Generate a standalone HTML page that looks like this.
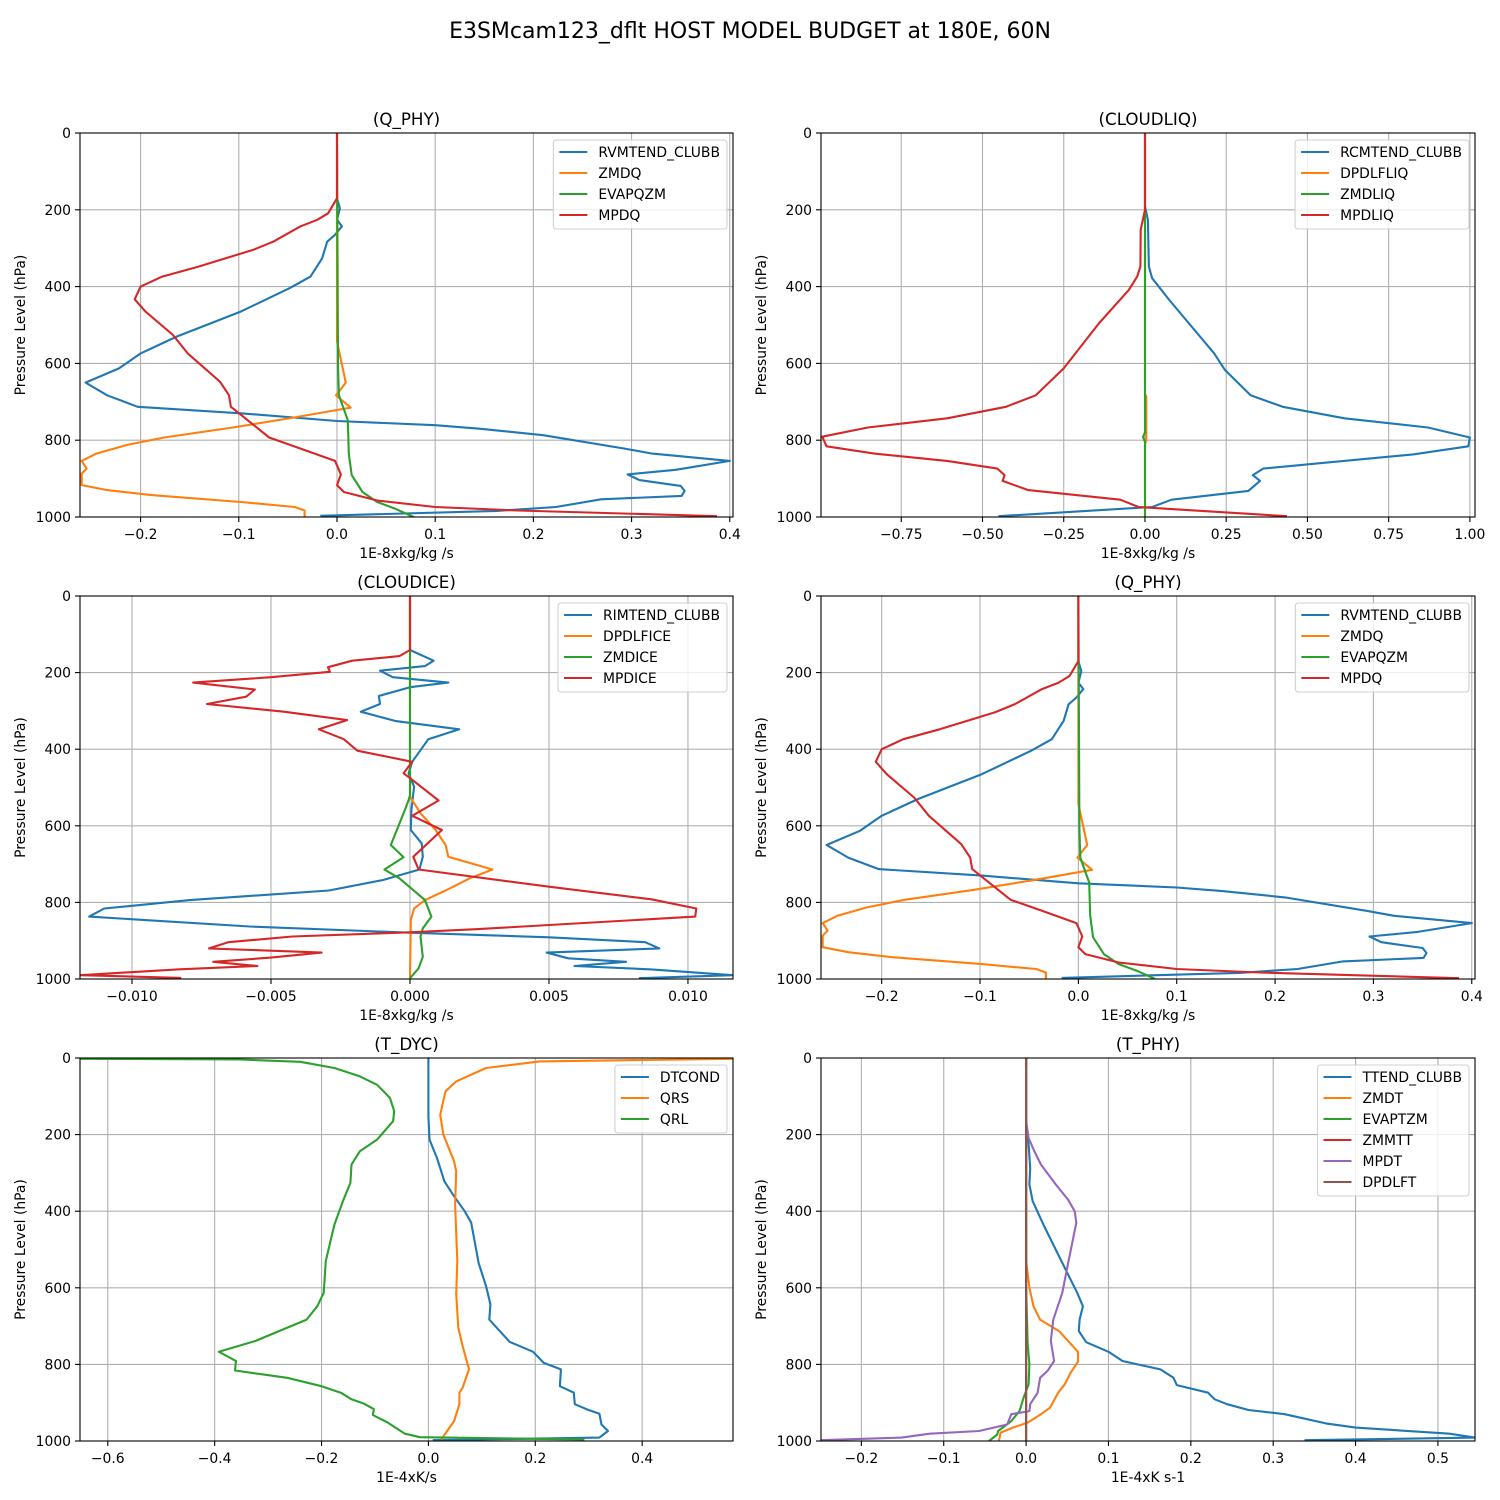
<!DOCTYPE html>
<html><head><meta charset="utf-8"><title>E3SM budget</title>
<style>
html,body{margin:0;padding:0;background:#fff;}
svg{display:block;font-family:"DejaVu Sans","Liberation Sans",sans-serif;}
</style></head>
<body>
<svg id="fig" width="1500" height="1500" viewBox="0 0 1500 1500" xmlns="http://www.w3.org/2000/svg">
<rect width="1500" height="1500" fill="#fff"/>
<text x="750" y="38" text-anchor="middle" font-size="22">E3SMcam123_dflt HOST MODEL BUDGET at 180E, 60N</text>
</svg>
<script>
// ---------- Q_PHY data ----------
const q_rvm_p=[0,170,196,226,243,265,283,300,326,374,404,465,530,574,613,650,683,713,730,750,761,770,787,822,835,854,877,889,904,919,932,945,954,974,984,997];
const q_rvm_v=[0,0,0.003,0,0.005,-0.002,-0.01,-0.012,-0.015,-0.027,-0.048,-0.098,-0.163,-0.2,-0.222,-0.256,-0.234,-0.203,-0.098,0,0.1,0.145,0.21,0.293,0.321,0.4,0.345,0.296,0.308,0.35,0.354,0.351,0.269,0.223,0.163,-0.017];
const q_zm_p=[0,543,650,683,715,742,767,793,813,835,854,874,887,917,930,943,961,974,983,1000];
const q_zm_v=[0,0,0.009,-0.001,0.014,-0.046,-0.106,-0.176,-0.215,-0.245,-0.26,-0.255,-0.26,-0.26,-0.234,-0.189,-0.098,-0.043,-0.033,-0.033];
const q_ev_p=[0,609,683,748,835,891,935,961,978,1000];
const q_ev_v=[0,0.001,0.002,0.011,0.012,0.015,0.026,0.041,0.059,0.078];
const q_mp_p=[0,170,209,226,243,283,304,348,374,400,433,465,526,574,648,683,713,793,822,854,889,917,935,957,974,983,998];
const q_mp_v=[0,0,-0.009,-0.02,-0.037,-0.065,-0.085,-0.141,-0.178,-0.2,-0.206,-0.195,-0.167,-0.152,-0.119,-0.11,-0.108,-0.069,-0.037,-0.002,0.004,0,0.007,0.041,0.1,0.184,0.387];
const q_ticks=[-0.2,-0.1,0.0,0.1,0.2,0.3,0.4];
const q_tick_labels=["−0.2","−0.1","0.0","0.1","0.2","0.3","0.4"];
const q_names=["RVMTEND_CLUBB","ZMDQ","EVAPQZM","MPDQ"];

// ---------- CLOUDLIQ data ----------
const l_rcm_p=[0,191,226,348,378,435,574,617,683,713,743,767,793,816,837,874,891,906,932,955,974,998];
const l_rcm_v=[0,0,0.009,0.012,0.022,0.075,0.213,0.246,0.325,0.424,0.614,0.871,1.0,0.995,0.825,0.364,0.332,0.354,0.318,0.082,0.022,-0.451];
const l_dp_p=[0,680,687,800,810,1000];
const l_dp_v=[0,0,0.004,0.004,0,0];
const l_zm_p=[0,780,791,805,1000];
const l_zm_v=[0,0,-0.006,0,0];
const l_mp_p=[0,200,252,348,374,409,496,613,683,713,743,767,791,816,835,854,874,891,906,930,955,974,998];
const l_mp_v=[0,0,-0.013,-0.014,-0.024,-0.05,-0.142,-0.25,-0.336,-0.428,-0.609,-0.853,-0.993,-0.98,-0.833,-0.609,-0.454,-0.432,-0.438,-0.359,-0.076,-0.02,0.437];
const l_ticks=[-0.75,-0.5,-0.25,0,0.25,0.5,0.75,1.0];
const l_tick_labels=["−0.75","−0.50","−0.25","0.00","0.25","0.50","0.75","1.00"];
const l_names=["RCMTEND_CLUBB","DPDLFLIQ","ZMDLIQ","MPDLIQ"];

// ---------- CLOUDICE data ----------
const i_rim_p=[0,141,169,183,195,212,226,238,261,282,302,326,348,374,433,463,498,559,611,646,681,714,742,769,794,816,837,863,879,891,904,920,931,946,955,966,975,990,998];
const i_rim_v=[0,0,0.00085,0.00054,-0.00108,-0.00062,0.00138,0,-0.00112,-0.00108,-0.00177,-0.00054,0.00177,0.00066,0.00008,-0.00005,0.00015,0.00005,0.00003,0.00042,0.00046,0.00034,-0.001,-0.00292,-0.00792,-0.011,-0.01154,-0.00577,0,0.005,0.00846,0.00897,0.00492,0.00569,0.00777,0.00592,0.00869,0.01162,0.00823];
const i_dp_p=[0,524,567,611,650,681,714,737,769,794,816,846,998];
const i_dp_v=[0,0,0.00038,0.00092,0.00128,0.00138,0.00297,0.00215,0.00128,0.00054,0.00015,0.00003,0];
const i_zm_p=[0,520,533,567,650,682,714,737,794,837,868,889,942,972,998];
const i_zm_v=[0,0,-0.00005,-0.00023,-0.00069,-0.00023,-0.00092,-0.00038,0.00054,0.00077,0.00046,0.00038,0.00046,0.00031,0];
const i_mp_p=[0,141,157,169,186,198,212,226,244,263,282,302,324,348,374,404,433,463,480,534,574,611,681,714,759,792,816,837,870,878,889,904,920,931,944,955,966,975,990,997];
const i_mp_v=[0,0,-0.00038,-0.00208,-0.00295,-0.00288,-0.005,-0.0078,-0.00558,-0.00589,-0.0073,-0.00454,-0.00226,-0.00328,-0.00238,-0.00189,0.00008,-0.00023,0.00008,0.00103,0.00008,0.00115,0.00012,0.00031,0.005,0.00869,0.0103,0.01026,0.00238,0,-0.00423,-0.00654,-0.00723,-0.00318,-0.005,-0.00708,-0.00549,-0.00838,-0.01185,-0.00823];
const i_ticks=[-0.010,-0.005,0,0.005,0.010];
const i_tick_labels=["−0.010","−0.005","0.000","0.005","0.010"];
const i_names=["RIMTEND_CLUBB","DPDLFICE","ZMDICE","MPDICE"];

// ---------- T_DYC data ----------
const d_dt_p=[0,152,213,261,322,361,400,430,535,596,643,683,741,767,796,813,857,874,904,917,929,957,974,991,998];
const d_dt_v=[0,0,0.002,0.016,0.03,0.048,0.068,0.08,0.094,0.108,0.116,0.114,0.152,0.196,0.216,0.248,0.246,0.272,0.274,0.296,0.32,0.324,0.336,0.32,0.008];
const d_qrs_p=[2,9,26,61,87,148,200,270,296,383,530,617,704,752,813,861,874,904,948,996];
const d_qrs_v=[0.57,0.208,0.108,0.052,0.032,0.022,0.028,0.048,0.052,0.05,0.054,0.052,0.056,0.064,0.076,0.064,0.058,0.058,0.048,0.024];
const d_qrl_p=[2,4,10,26,48,70,104,139,165,213,243,278,326,374,435,530,613,648,683,739,767,791,816,835,857,874,891,903,917,932,952,981,990,996];
const d_qrl_v=[-0.652,-0.352,-0.24,-0.176,-0.128,-0.096,-0.072,-0.064,-0.066,-0.096,-0.128,-0.144,-0.146,-0.16,-0.176,-0.192,-0.196,-0.208,-0.228,-0.324,-0.392,-0.36,-0.362,-0.264,-0.2,-0.164,-0.144,-0.12,-0.102,-0.104,-0.076,-0.044,-0.016,0.292];
const d_ticks=[-0.6,-0.4,-0.2,0,0.2,0.4];
const d_tick_labels=["−0.6","−0.4","−0.2","0.0","0.2","0.4"];
const d_names=["DTCOND","QRS","QRL"];

// ---------- T_PHY data ----------
const t_tt_p=[0,165,226,287,330,374,435,500,557,613,648,683,713,742,767,791,813,835,854,874,891,904,919,930,954,965,981,991,998];
const t_tt_v=[0,0,0.003,0.005,0.004,0.008,0.021,0.036,0.049,0.062,0.069,0.065,0.064,0.073,0.1,0.117,0.163,0.179,0.183,0.221,0.229,0.244,0.27,0.314,0.364,0.4,0.514,0.545,0.338];
const t_zm_p=[0,530,600,648,683,713,767,793,822,852,874,913,930,952,965,978,1000];
const t_zm_v=[0,0,0.004,0.009,0.017,0.04,0.063,0.063,0.054,0.047,0.039,0.029,0.018,0.002,-0.016,-0.031,-0.033];
const t_ev_p=[0,600,748,800,852,887,922,948,974,983,1000];
const t_ev_v=[0,0,0.002,0.004,0.003,-0.003,-0.008,-0.018,-0.034,-0.035,-0.045];
const t_zt_p=[0,1000];
const t_zt_v=[0,0];
const t_mp_p=[0,165,209,243,278,330,370,400,430,557,613,683,739,791,817,835,874,904,922,930,957,974,981,991,998];
const t_mp_v=[0,0,0.003,0.01,0.018,0.036,0.051,0.059,0.061,0.049,0.044,0.033,0.03,0.034,0.026,0.017,0.014,0.005,0.004,-0.018,-0.023,-0.057,-0.117,-0.151,-0.249];
const t_dl_p=[0,1000];
const t_dl_v=[0,0];
const t_ticks=[-0.2,-0.1,0,0.1,0.2,0.3,0.4,0.5];
const t_tick_labels=["−0.2","−0.1","0.0","0.1","0.2","0.3","0.4","0.5"];
const t_names=["TTEND_CLUBB","ZMDT","EVAPTZM","ZMMTT","MPDT","DPDLFT"];

const y_ticks=[0,200,400,600,800,1000];
const y_tick_labels=["0","200","400","600","800","1000"];
const COLORS=["#1f77b4","#ff7f0e","#2ca02c","#d62728","#9467bd","#8c564b"];
const NS="http://www.w3.org/2000/svg";
const fig=document.getElementById('fig');
function mk(tag,attrs,parent){const e=document.createElementNS(NS,tag);for(const k in attrs)e.setAttribute(k,attrs[k]);(parent||fig).appendChild(e);return e;}

function panel(cfg){
  const g=mk('g',{});
  
  
  const L=cfg.x0,R=cfg.x1,T=cfg.y0,B=cfg.y1;
  const sx=v=>L+(v-cfg.xmin)/(cfg.xmax-cfg.xmin)*(R-L);
  const sy=p=>T+p/1000*(B-T);
  cfg.ticks.forEach((t,i)=>{
    const x=sx(t);
    const gl=mk('line',{x1:x,x2:x,y1:T,y2:B,stroke:'#b0b0b0','stroke-width':1.1},g);
    
    
    mk('line',{x1:x,x2:x,y1:B,y2:B+5,stroke:'#000','stroke-width':1.1},g);
    const tl=mk('text',{x:x,y:B+22,'text-anchor':'middle','font-size':13.9},g);
    tl.textContent=cfg.labels[i];
    
    
  });
  y_ticks.forEach((t,i)=>{
    const y=sy(t);
    const gl=mk('line',{x1:L,x2:R,y1:y,y2:y,stroke:'#b0b0b0','stroke-width':1.1},g);
    
    
    mk('line',{x1:L-5,x2:L,y1:y,y2:y,stroke:'#000','stroke-width':1.1},g);
    const tl=mk('text',{x:L-9,y:y+5,'text-anchor':'end','font-size':13.9},g);
    tl.textContent=y_tick_labels[i];
    
    
  });
  const cp=mk('clipPath',{id:'clip-'+cfg.id},g);
  mk('rect',{x:L,y:T,width:R-L,height:B-T},cp);
  const sg=mk('g',{'clip-path':'url(#clip-'+cfg.id+')'},g);
  cfg.series.forEach((s,k)=>{
    const pts=s.p.map((p,j)=>sx(s.v[j]).toFixed(1)+','+sy(p).toFixed(1)).join(' ');
    const pl=mk('polyline',{points:pts,fill:'none',stroke:COLORS[k],'stroke-width':2.1,'stroke-linejoin':'round'},sg);
    
    
  });
  const fr=mk('rect',{x:L,y:T,width:R-L,height:B-T,fill:'none',stroke:'#000','stroke-width':1.1},g);
  
  
  const tt=mk('text',{x:(L+R)/2,y:T-8,'text-anchor':'middle','font-size':16.7},g);
  tt.textContent=cfg.title;
  
  
  const xl=mk('text',{x:(L+R)/2,y:B+41,'text-anchor':'middle','font-size':13.9},g);
  xl.textContent=cfg.xlabel;
  
  
  const yl=mk('text',{x:0,y:0,'text-anchor':'middle','font-size':13.9,transform:'translate('+(L-55)+','+((T+B)/2)+') rotate(-90)'},g);
  yl.textContent='Pressure Level (hPa)';
  
  
  const lg=mk('g',{},g);
  
  
  const box=mk('rect',{fill:'#fff','fill-opacity':0.8,stroke:'#d0d0d0','stroke-width':1.1,rx:3},lg);
  let maxw=0;const texts=[];
  cfg.names.forEach((n,k)=>{
    const t=mk('text',{'font-size':13.9},lg);t.textContent=n;
    
    
    texts.push(t);maxw=Math.max(maxw,t.getComputedTextLength());
  });
  const w=maxw+52, h=cfg.names.length*21+5;
  const bx=R-6-w, by=T+7;
  box.setAttribute('x',bx);box.setAttribute('y',by);box.setAttribute('width',w);box.setAttribute('height',h);
  texts.forEach((t,k)=>{
    const cy=by+12+k*21;
    t.setAttribute('x',bx+45);t.setAttribute('y',cy+5);
    mk('line',{x1:bx+6,x2:bx+34,y1:cy,y2:cy,stroke:COLORS[k],'stroke-width':2.1},lg);
  });
}

const cols=[[80,733],[821,1475]];
const rows=[[133,517],[596,979],[1058,1441]];
const qSeries=[{p:q_rvm_p,v:q_rvm_v},{p:q_zm_p,v:q_zm_v},{p:q_ev_p,v:q_ev_v},{p:q_mp_p,v:q_mp_v}];
panel({id:'qphy1',title:'(Q_PHY)',xlabel:'1E-8xkg/kg /s',x0:cols[0][0],x1:cols[0][1],y0:rows[0][0],y1:rows[0][1],xmin:-0.2617,xmax:0.4033,ticks:q_ticks,labels:q_tick_labels,names:q_names,series:qSeries});
panel({id:'cloudliq',title:'(CLOUDLIQ)',xlabel:'1E-8xkg/kg /s',x0:cols[1][0],x1:cols[1][1],y0:rows[0][0],y1:rows[0][1],xmin:-0.997,xmax:1.0157,ticks:l_ticks,labels:l_tick_labels,names:l_names,series:[{p:l_rcm_p,v:l_rcm_v},{p:l_dp_p,v:l_dp_v},{p:l_zm_p,v:l_zm_v},{p:l_mp_p,v:l_mp_v}]});
panel({id:'cloudice',title:'(CLOUDICE)',xlabel:'1E-8xkg/kg /s',x0:cols[0][0],x1:cols[0][1],y0:rows[1][0],y1:rows[1][1],xmin:-0.01187,xmax:0.01162,ticks:i_ticks,labels:i_tick_labels,names:i_names,series:[{p:i_rim_p,v:i_rim_v},{p:i_dp_p,v:i_dp_v},{p:i_zm_p,v:i_zm_v},{p:i_mp_p,v:i_mp_v}]});
panel({id:'qphy2',title:'(Q_PHY)',xlabel:'1E-8xkg/kg /s',x0:cols[1][0],x1:cols[1][1],y0:rows[1][0],y1:rows[1][1],xmin:-0.2617,xmax:0.4033,ticks:q_ticks,labels:q_tick_labels,names:q_names,series:qSeries});
panel({id:'tdyc',title:'(T_DYC)',xlabel:'1E-4xK/s',x0:cols[0][0],x1:cols[0][1],y0:rows[2][0],y1:rows[2][1],xmin:-0.652,xmax:0.57,ticks:d_ticks,labels:d_tick_labels,names:d_names,series:[{p:d_dt_p,v:d_dt_v},{p:d_qrs_p,v:d_qrs_v},{p:d_qrl_p,v:d_qrl_v}]});
panel({id:'tphy',title:'(T_PHY)',xlabel:'1E-4xK s-1',x0:cols[1][0],x1:cols[1][1],y0:rows[2][0],y1:rows[2][1],xmin:-0.249,xmax:0.545,ticks:t_ticks,labels:t_tick_labels,names:t_names,series:[{p:t_tt_p,v:t_tt_v},{p:t_zm_p,v:t_zm_v},{p:t_ev_p,v:t_ev_v},{p:t_zt_p,v:t_zt_v},{p:t_mp_p,v:t_mp_v},{p:t_dl_p,v:t_dl_v}]});
</script>
</body></html>
